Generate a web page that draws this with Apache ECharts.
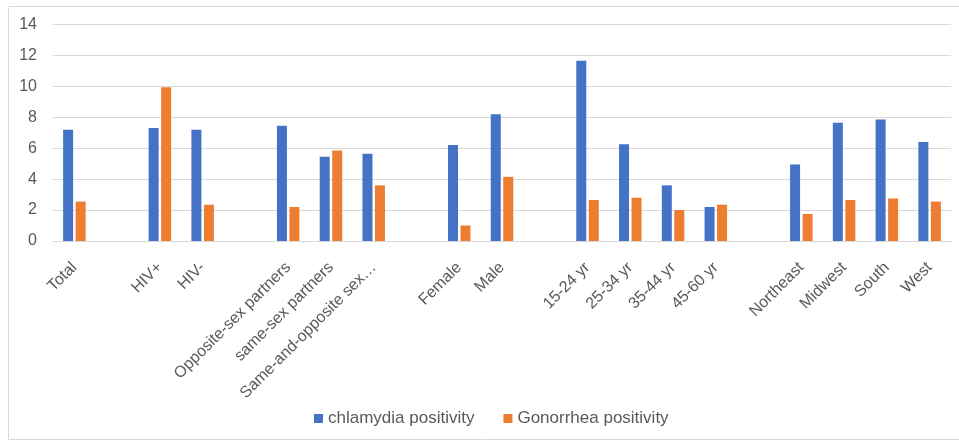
<!DOCTYPE html>
<html>
<head>
<meta charset="utf-8">
<script src="https://cdn.jsdelivr.net/npm/echarts@6/dist/echarts.min.js"></script>
<style>
  html, body { margin: 0; padding: 0; background: #ffffff; }
  #chart { width: 959px; height: 441px; }
</style>
</head>
<body>
<div id="chart"></div>
<script>
// Empty strings are spacer slots that separate the category groups.
const categories = [
  'Total', '',
  'HIV+', 'HIV-', '',
  'Opposite-sex partners', 'same-sex partners', 'Same-and-opposite sex partners', '',
  'Female', 'Male', '',
  '15-24 yr', '25-34 yr', '35-44 yr', '45-60 yr', '',
  'Northeast', 'Midwest', 'South', 'West'
];

const chlamydia = [
  7.2, null,
  7.3, 7.2, null,
  7.45, 5.45, 5.65, null,
  6.2, 8.2, null,
  11.65, 6.25, 3.6, 2.2, null,
  4.95, 7.65, 7.85, 6.4
];

const gonorrhea = [
  2.55, null,
  9.95, 2.35, null,
  2.2, 5.85, 3.6, null,
  1.0, 4.15, null,
  2.65, 2.8, 2.0, 2.35, null,
  1.75, 2.65, 2.75, 2.55
];

const seriesNames = ['chlamydia positivity', 'Gonorrhea positivity'];
const yTicks = { min: 0, max: 14, step: 2 };

const FONT = '"Liberation Sans", Arial, sans-serif';
const TEXT = '#595959';
const GRID = '#d9d9d9';

const chart = echarts.init(document.getElementById('chart'), null, { renderer: 'canvas' });

chart.setOption({
  animation: false,
  backgroundColor: '#ffffff',
  textStyle: { fontFamily: FONT },
  graphic: [{
    type: 'rect',
    shape: { x: 8.5, y: 6.5, width: 960, height: 433 },
    style: { fill: 'none', stroke: '#d9d9d9', lineWidth: 1 },
    silent: true,
    z: -1
  }],
  grid: { left: 53, right: 8, top: 24.5, bottom: 200, containLabel: false },
  legend: {
    data: seriesNames,
    bottom: 9,
    left: 309,
    itemWidth: 9,
    itemHeight: 9,
    itemGap: 29,
    icon: 'rect',
    textStyle: { color: TEXT, fontSize: 17, fontFamily: FONT }
  },
  xAxis: {
    type: 'category',
    data: categories,
    axisLine: { show: true, lineStyle: { color: GRID, width: 1 } },
    axisTick: { show: false },
    axisLabel: {
      interval: 0,
      rotate: 45,
      margin: 24,
      color: TEXT,
      fontSize: 16,
      fontFamily: FONT,
      formatter: function (v) {
        return v.length > 22 ? v.slice(0, 21) + '…' : v;
      }
    },
    splitLine: { show: false }
  },
  yAxis: {
    type: 'value',
    min: yTicks.min,
    max: yTicks.max,
    interval: yTicks.step,
    axisLine: { show: false },
    axisTick: { show: false },
    axisLabel: { color: TEXT, fontSize: 16, fontFamily: FONT, margin: 16 },
    splitLine: { lineStyle: { color: GRID, width: 1 } }
  },
  series: [
    {
      name: seriesNames[0],
      type: 'bar',
      data: chlamydia,
      barWidth: 10,
      barGap: '25%',
      itemStyle: { color: '#4472C4' }
    },
    {
      name: seriesNames[1],
      type: 'bar',
      data: gonorrhea,
      barWidth: 10,
      barGap: '25%',
      itemStyle: { color: '#ED7D31' }
    }
  ]
});
</script>
</body>
</html>
